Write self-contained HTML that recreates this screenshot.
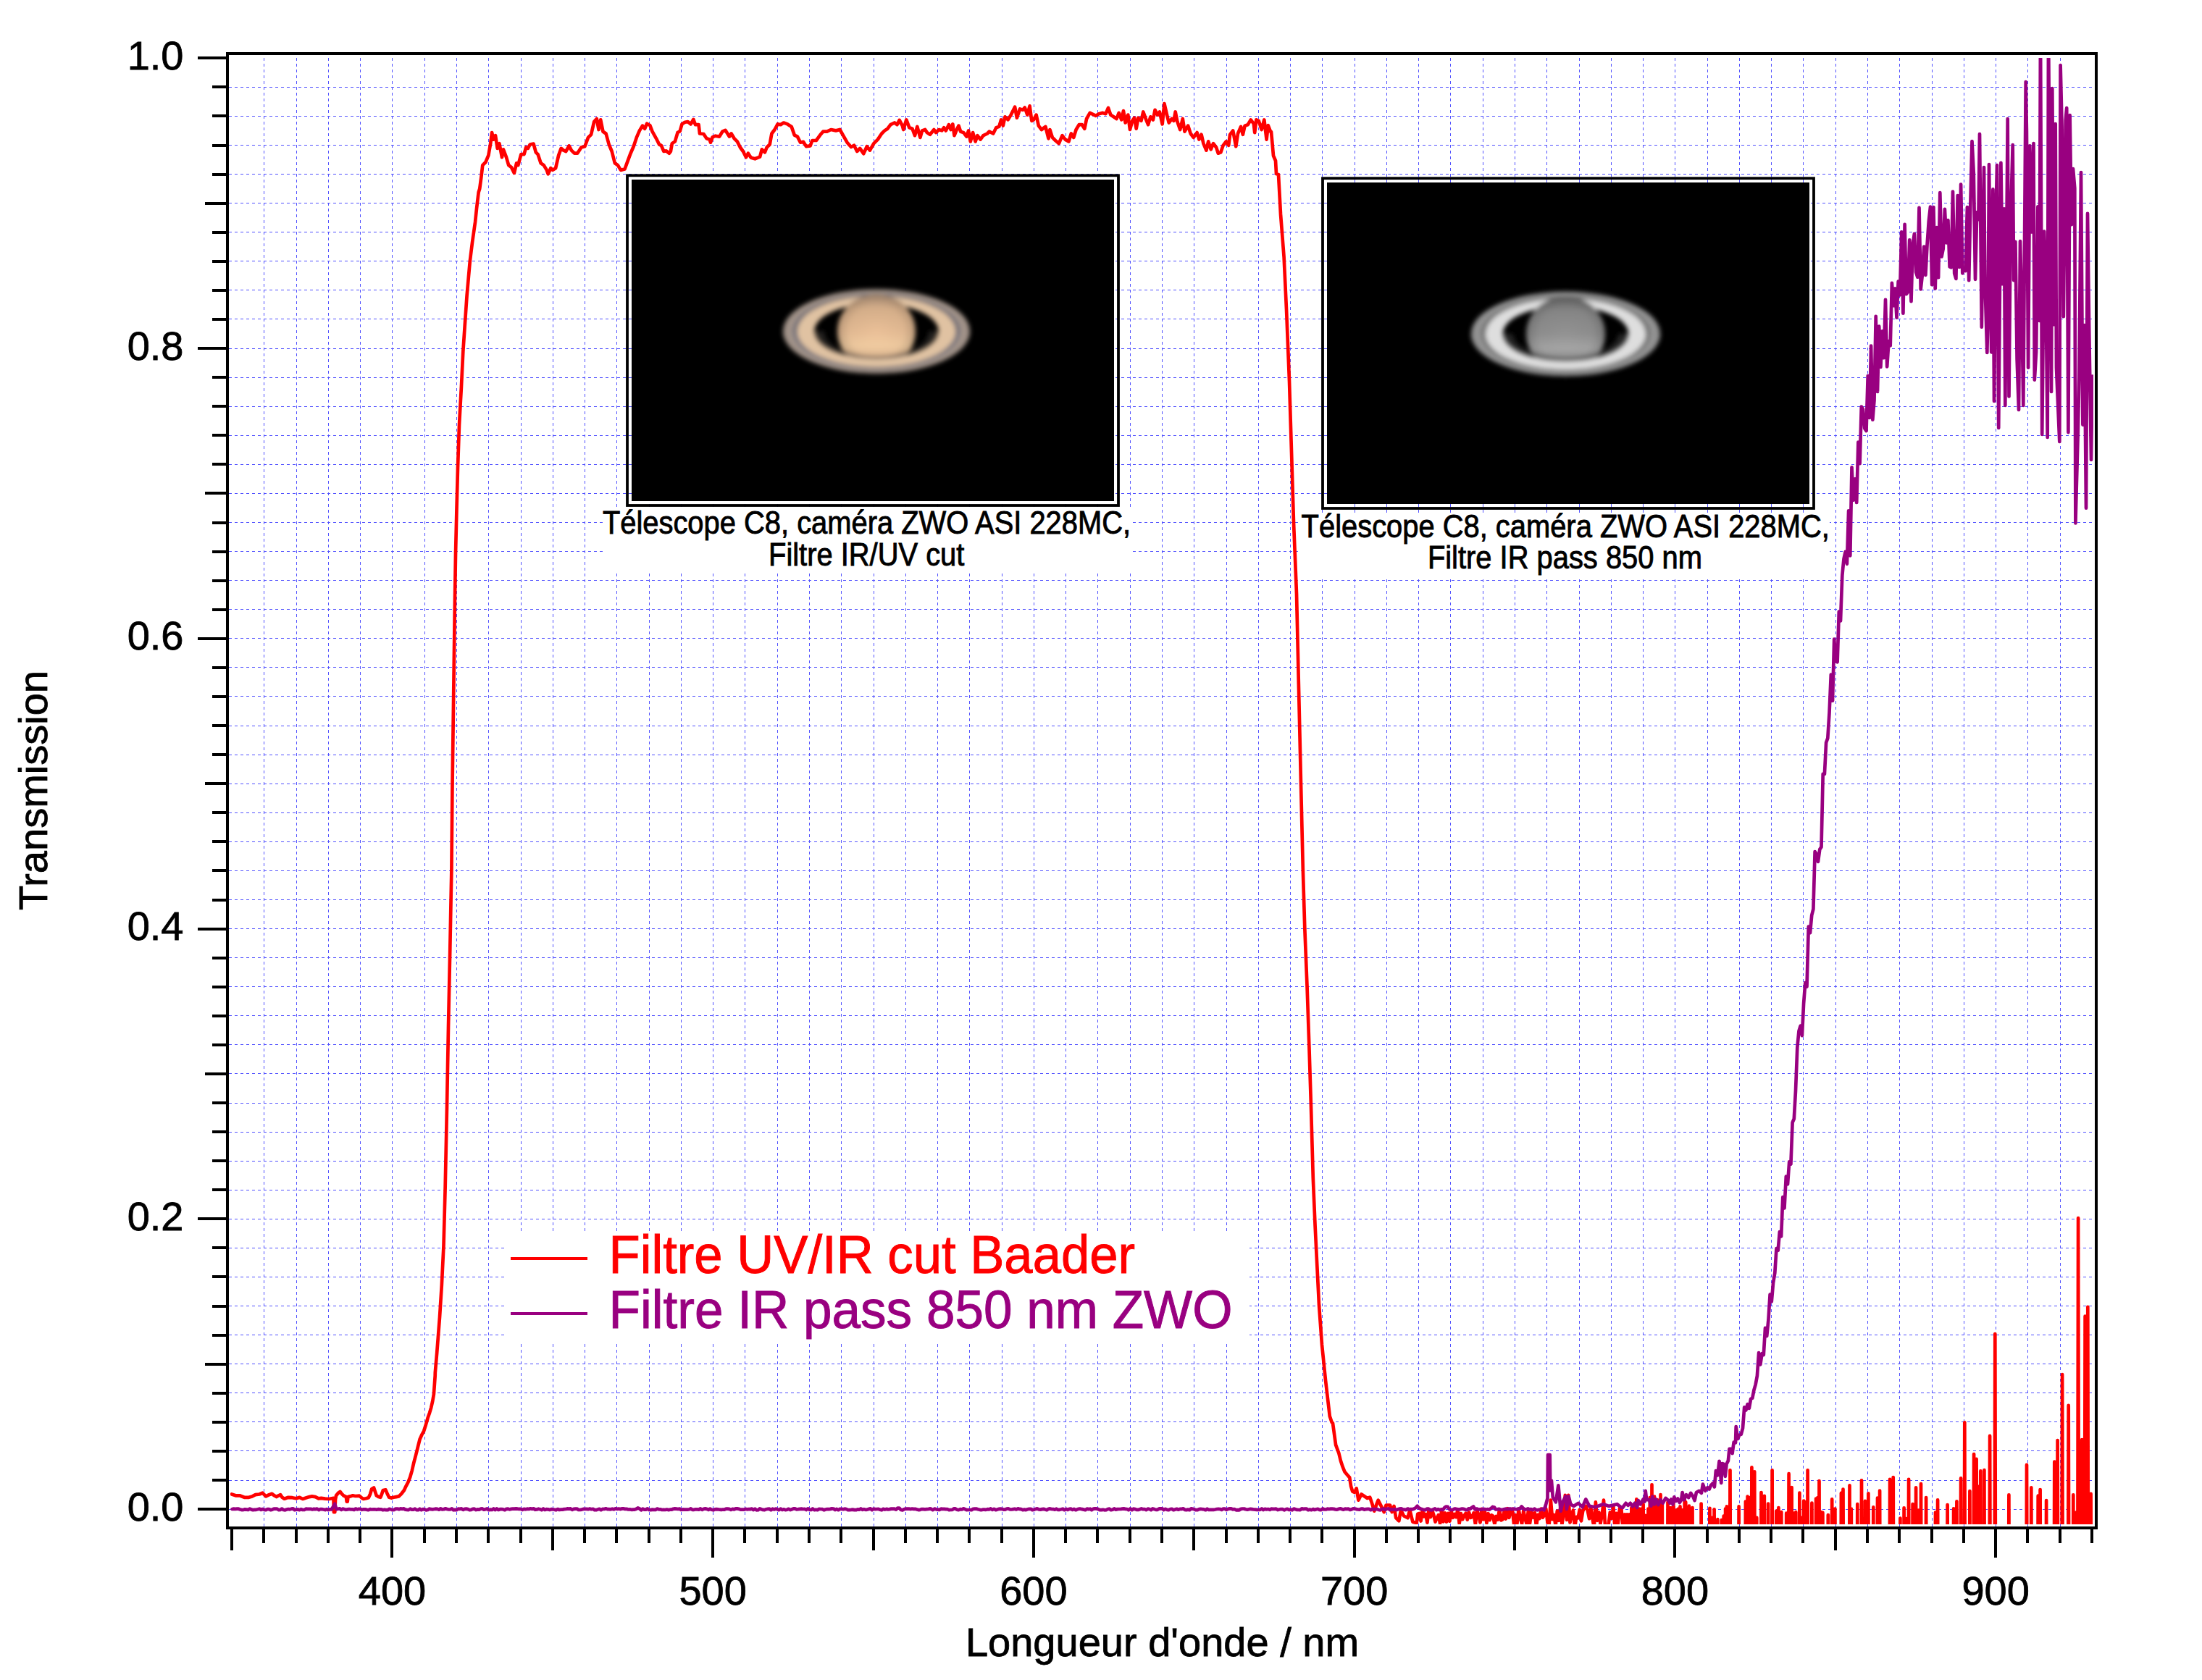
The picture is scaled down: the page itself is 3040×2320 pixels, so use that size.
<!DOCTYPE html>
<html><head><meta charset="utf-8"><title>Transmission</title>
<style>html,body{margin:0;padding:0;background:#fff}body{width:3040px;height:2320px;overflow:hidden}</style>
</head><body>
<svg width="3040" height="2320" viewBox="0 0 3040 2320" style="display:block">
<defs>
<clipPath id="plot"><rect x="318" y="80" width="2572" height="2025"/></clipPath>
</defs>
<rect width="3040" height="2320" fill="#fff"/>
<g stroke="#5252ff" stroke-width="1" stroke-dasharray="4 4" fill="none">
<line x1="364.5" y1="80" x2="364.5" y2="2108"/><line x1="409.5" y1="80" x2="409.5" y2="2108"/><line x1="453.5" y1="80" x2="453.5" y2="2108"/><line x1="497.5" y1="80" x2="497.5" y2="2108"/><line x1="541.5" y1="80" x2="541.5" y2="2108"/><line x1="586.5" y1="80" x2="586.5" y2="2108"/><line x1="630.5" y1="80" x2="630.5" y2="2108"/><line x1="674.5" y1="80" x2="674.5" y2="2108"/><line x1="719.5" y1="80" x2="719.5" y2="2108"/><line x1="763.5" y1="80" x2="763.5" y2="2108"/><line x1="807.5" y1="80" x2="807.5" y2="2108"/><line x1="851.5" y1="80" x2="851.5" y2="2108"/><line x1="896.5" y1="80" x2="896.5" y2="2108"/><line x1="940.5" y1="80" x2="940.5" y2="2108"/><line x1="984.5" y1="80" x2="984.5" y2="2108"/><line x1="1028.5" y1="80" x2="1028.5" y2="2108"/><line x1="1073.5" y1="80" x2="1073.5" y2="2108"/><line x1="1117.5" y1="80" x2="1117.5" y2="2108"/><line x1="1161.5" y1="80" x2="1161.5" y2="2108"/><line x1="1206.5" y1="80" x2="1206.5" y2="2108"/><line x1="1250.5" y1="80" x2="1250.5" y2="2108"/><line x1="1294.5" y1="80" x2="1294.5" y2="2108"/><line x1="1338.5" y1="80" x2="1338.5" y2="2108"/><line x1="1383.5" y1="80" x2="1383.5" y2="2108"/><line x1="1427.5" y1="80" x2="1427.5" y2="2108"/><line x1="1471.5" y1="80" x2="1471.5" y2="2108"/><line x1="1515.5" y1="80" x2="1515.5" y2="2108"/><line x1="1560.5" y1="80" x2="1560.5" y2="2108"/><line x1="1604.5" y1="80" x2="1604.5" y2="2108"/><line x1="1648.5" y1="80" x2="1648.5" y2="2108"/><line x1="1693.5" y1="80" x2="1693.5" y2="2108"/><line x1="1737.5" y1="80" x2="1737.5" y2="2108"/><line x1="1781.5" y1="80" x2="1781.5" y2="2108"/><line x1="1825.5" y1="80" x2="1825.5" y2="2108"/><line x1="1870.5" y1="80" x2="1870.5" y2="2108"/><line x1="1914.5" y1="80" x2="1914.5" y2="2108"/><line x1="1958.5" y1="80" x2="1958.5" y2="2108"/><line x1="2002.5" y1="80" x2="2002.5" y2="2108"/><line x1="2047.5" y1="80" x2="2047.5" y2="2108"/><line x1="2091.5" y1="80" x2="2091.5" y2="2108"/><line x1="2135.5" y1="80" x2="2135.5" y2="2108"/><line x1="2180.5" y1="80" x2="2180.5" y2="2108"/><line x1="2224.5" y1="80" x2="2224.5" y2="2108"/><line x1="2268.5" y1="80" x2="2268.5" y2="2108"/><line x1="2312.5" y1="80" x2="2312.5" y2="2108"/><line x1="2357.5" y1="80" x2="2357.5" y2="2108"/><line x1="2401.5" y1="80" x2="2401.5" y2="2108"/><line x1="2445.5" y1="80" x2="2445.5" y2="2108"/><line x1="2489.5" y1="80" x2="2489.5" y2="2108"/><line x1="2534.5" y1="80" x2="2534.5" y2="2108"/><line x1="2578.5" y1="80" x2="2578.5" y2="2108"/><line x1="2622.5" y1="80" x2="2622.5" y2="2108"/><line x1="2667.5" y1="80" x2="2667.5" y2="2108"/><line x1="2711.5" y1="80" x2="2711.5" y2="2108"/><line x1="2755.5" y1="80" x2="2755.5" y2="2108"/><line x1="2799.5" y1="80" x2="2799.5" y2="2108"/><line x1="2844.5" y1="80" x2="2844.5" y2="2108"/><line x1="316" y1="2084.5" x2="2888" y2="2084.5"/><line x1="316" y1="2044.5" x2="2888" y2="2044.5"/><line x1="316" y1="2003.5" x2="2888" y2="2003.5"/><line x1="316" y1="1963.5" x2="2888" y2="1963.5"/><line x1="316" y1="1923.5" x2="2888" y2="1923.5"/><line x1="316" y1="1883.5" x2="2888" y2="1883.5"/><line x1="316" y1="1843.5" x2="2888" y2="1843.5"/><line x1="316" y1="1803.5" x2="2888" y2="1803.5"/><line x1="316" y1="1763.5" x2="2888" y2="1763.5"/><line x1="316" y1="1723.5" x2="2888" y2="1723.5"/><line x1="316" y1="1683.5" x2="2888" y2="1683.5"/><line x1="316" y1="1643.5" x2="2888" y2="1643.5"/><line x1="316" y1="1603.5" x2="2888" y2="1603.5"/><line x1="316" y1="1563.5" x2="2888" y2="1563.5"/><line x1="316" y1="1523.5" x2="2888" y2="1523.5"/><line x1="316" y1="1482.5" x2="2888" y2="1482.5"/><line x1="316" y1="1442.5" x2="2888" y2="1442.5"/><line x1="316" y1="1402.5" x2="2888" y2="1402.5"/><line x1="316" y1="1362.5" x2="2888" y2="1362.5"/><line x1="316" y1="1322.5" x2="2888" y2="1322.5"/><line x1="316" y1="1282.5" x2="2888" y2="1282.5"/><line x1="316" y1="1242.5" x2="2888" y2="1242.5"/><line x1="316" y1="1202.5" x2="2888" y2="1202.5"/><line x1="316" y1="1162.5" x2="2888" y2="1162.5"/><line x1="316" y1="1122.5" x2="2888" y2="1122.5"/><line x1="316" y1="1082.5" x2="2888" y2="1082.5"/><line x1="316" y1="1042.5" x2="2888" y2="1042.5"/><line x1="316" y1="1002.5" x2="2888" y2="1002.5"/><line x1="316" y1="961.5" x2="2888" y2="961.5"/><line x1="316" y1="921.5" x2="2888" y2="921.5"/><line x1="316" y1="881.5" x2="2888" y2="881.5"/><line x1="316" y1="841.5" x2="2888" y2="841.5"/><line x1="316" y1="801.5" x2="2888" y2="801.5"/><line x1="316" y1="761.5" x2="2888" y2="761.5"/><line x1="316" y1="721.5" x2="2888" y2="721.5"/><line x1="316" y1="681.5" x2="2888" y2="681.5"/><line x1="316" y1="641.5" x2="2888" y2="641.5"/><line x1="316" y1="601.5" x2="2888" y2="601.5"/><line x1="316" y1="561.5" x2="2888" y2="561.5"/><line x1="316" y1="521.5" x2="2888" y2="521.5"/><line x1="316" y1="481.5" x2="2888" y2="481.5"/><line x1="316" y1="440.5" x2="2888" y2="440.5"/><line x1="316" y1="400.5" x2="2888" y2="400.5"/><line x1="316" y1="360.5" x2="2888" y2="360.5"/><line x1="316" y1="320.5" x2="2888" y2="320.5"/><line x1="316" y1="280.5" x2="2888" y2="280.5"/><line x1="316" y1="240.5" x2="2888" y2="240.5"/><line x1="316" y1="200.5" x2="2888" y2="200.5"/><line x1="316" y1="160.5" x2="2888" y2="160.5"/><line x1="316" y1="120.5" x2="2888" y2="120.5"/>
</g>
<g clip-path="url(#plot)" fill="none" stroke-width="4.7" stroke-linejoin="round" stroke-linecap="round">
<polyline stroke="#ff0000" points="319.9,2063.5 325.3,2065.3 330.8,2065.3 337.3,2067.8 343.5,2067.8 348.2,2066.4 352.6,2064.2 358.0,2063.5 362.4,2061.7 367.1,2066.4 371.5,2064.2 375.5,2062.8 378.7,2065.3 381.7,2067.1 384.6,2065.3 387.1,2064.2 389.6,2067.8 392.6,2069.7 398.0,2067.8 403.5,2068.2 408.9,2069.3 413.6,2067.8 418.0,2070.0 422.3,2068.6 427.1,2067.1 430.7,2066.4 435.4,2067.1 439.8,2069.3 443.4,2068.9 448.9,2069.7 454.3,2070.0 457.9,2069.3 460.5,2068.9 460.9,2088.2 462.3,2088.2 463.0,2070.8 464.1,2065.3 467.0,2061.7 469.6,2059.9 471.8,2062.8 474.3,2065.3 477.9,2067.1 478.7,2073.7 479.7,2073.7 480.5,2067.1 483.4,2066.4 487.0,2065.3 490.6,2066.0 496.1,2065.7 498.6,2067.8 501.5,2070.0 505.2,2069.3 508.8,2068.2 511.0,2063.5 513.2,2056.2 516.1,2054.4 517.9,2059.9 519.7,2065.3 522.6,2067.1 525.2,2067.8 527.0,2063.5 528.8,2058.0 532.4,2057.3 534.2,2061.7 537.1,2067.8 540.1,2068.6 543.3,2067.8 547.0,2067.1 550.6,2066.4 554.2,2062.8 557.9,2058.0 560.4,2052.6 563.3,2047.1 566.2,2039.9 568.8,2030.8 571.3,2019.9 574.2,2009.0 577.1,1997.4 579.7,1987.2 582.2,1981.7 585.1,1976.3 588.0,1967.2 590.6,1958.1 593.1,1950.9 595.3,1943.6 597.1,1935.6 598.9,1925.4 600.7,1900.0 600.8,1895.5 603.2,1868.0 607.0,1819.0 609.8,1775.0 612.5,1720.0 614.7,1638.0 617.0,1528.6 619.0,1419.0 621.3,1309.5 623.4,1200.0 624.4,1093.0 625.6,1003.6 626.8,914.0 628.0,825.0 629.0,765.5 630.4,706.0 632.0,646.0 634.0,587.0 637.0,533.0 639.3,485.7 641.7,450.0 644.6,408.0 648.8,360.7 652.0,335.0 656.0,307.0 658.0,288.0 660.7,265.5 662.2,260.8 664.4,244.4 666.3,228.1 670.4,224.0 674.4,214.4 677.2,198.1 679.1,183.1 681.3,192.6 684.0,187.2 686.7,204.9 689.4,198.1 693.0,217.2 694.9,206.3 699.0,217.2 702.2,228.1 705.8,230.8 709.9,239.0 713.1,225.3 715.3,228.1 719.4,213.1 723.5,213.1 726.2,203.5 728.9,204.9 731.7,199.5 736.6,198.6 739.8,210.4 742.6,213.1 746.6,225.3 750.7,228.1 754.8,234.9 756.7,240.3 760.3,232.2 763.0,234.9 767.1,232.2 771.2,214.4 774.7,204.9 778.0,207.6 781.3,209.0 785.6,201.4 788.9,207.6 793.0,211.7 797.1,211.7 802.5,203.5 807.4,202.2 812.0,189.9 816.1,185.8 820.2,168.1 823.8,164.0 826.5,179.0 829.2,165.4 832.5,181.7 836.6,184.5 840.7,199.5 844.7,209.0 848.8,225.3 852.9,228.1 857.0,234.9 862.5,233.5 866.5,222.6 870.6,211.7 874.7,202.2 878.8,189.9 882.9,180.4 887.0,173.6 890.2,177.7 893.0,170.8 897.3,173.0 900.6,181.7 906.0,191.3 910.1,199.5 912.9,200.8 916.4,209.0 919.7,208.4 923.8,211.7 925.9,209.0 927.8,198.1 931.9,195.4 935.5,183.1 938.7,181.2 941.5,171.4 945.6,168.7 949.6,168.1 953.7,171.4 957.3,164.9 960.0,172.2 964.6,172.2 966.0,184.5 971.4,185.0 975.5,191.3 979.6,192.6 981.0,196.7 983.7,189.4 987.8,187.7 993.2,188.6 997.3,181.7 1001.4,179.8 1006.9,188.6 1009.6,184.5 1013.7,191.3 1017.8,195.4 1021.9,203.5 1025.9,209.0 1030.0,217.2 1032.8,211.7 1036.8,217.7 1042.3,219.3 1049.1,216.6 1051.8,206.3 1055.9,210.4 1058.6,203.5 1062.7,199.5 1065.4,184.5 1069.5,179.0 1073.6,171.4 1077.7,172.2 1081.8,169.5 1087.2,171.4 1092.7,174.9 1096.8,186.6 1100.9,188.6 1105.0,196.7 1109.0,195.9 1113.1,202.2 1118.6,201.4 1121.3,194.0 1126.8,194.0 1132.2,186.6 1136.3,181.7 1141.7,181.7 1147.2,179.0 1154.0,180.4 1159.5,179.0 1164.1,187.2 1169.5,196.7 1175.0,203.0 1179.1,200.8 1183.2,209.0 1187.2,204.9 1192.2,212.3 1196.8,202.2 1200.9,207.6 1206.3,198.1 1211.8,192.6 1217.2,184.5 1221.3,180.4 1225.4,177.7 1229.5,172.2 1234.9,169.5 1238.5,172.2 1241.7,165.9 1245.8,173.6 1247.2,179.0 1251.3,165.4 1255.4,176.3 1259.5,177.7 1263.0,187.2 1266.3,174.9 1270.4,189.9 1273.1,180.4 1277.2,179.0 1279.9,183.1 1284.0,185.8 1289.4,179.0 1292.2,183.1 1296.2,179.0 1300.3,180.4 1303.1,176.3 1305.8,180.4 1309.9,172.2 1312.6,179.0 1315.3,171.4 1317.5,187.2 1320.8,179.0 1323.5,173.6 1326.2,181.7 1330.3,183.1 1334.4,188.6 1337.1,180.4 1339.8,195.4 1343.1,183.1 1346.6,195.4 1349.4,187.2 1353.5,192.6 1357.5,187.2 1363.0,184.5 1365.7,181.7 1371.2,184.5 1375.3,176.3 1379.3,174.9 1382.1,165.4 1384.8,173.6 1387.5,161.3 1391.6,165.4 1395.7,158.6 1401.1,147.7 1403.9,162.7 1408.0,150.4 1412.0,151.8 1414.8,148.5 1418.3,158.6 1421.6,146.3 1424.3,166.8 1427.0,165.4 1430.6,158.6 1433.8,173.6 1437.9,179.0 1443.4,174.9 1447.5,191.3 1449.4,179.0 1452.9,189.9 1457.0,194.0 1461.9,198.1 1466.5,187.2 1470.6,192.6 1475.5,195.4 1478.8,184.5 1482.3,189.9 1485.6,179.0 1489.7,172.2 1493.8,172.2 1497.3,177.7 1500.1,164.0 1504.7,155.9 1508.8,157.8 1512.9,159.9 1516.9,157.2 1522.4,155.9 1526.5,157.2 1530.0,149.0 1533.3,158.6 1537.4,161.3 1541.5,164.0 1544.7,155.9 1548.3,165.4 1551.0,153.1 1553.7,169.5 1557.3,158.6 1560.0,179.0 1563.3,166.8 1566.0,162.7 1568.7,177.7 1571.4,162.7 1575.5,166.8 1578.3,154.5 1582.3,165.4 1585.1,172.2 1588.3,161.3 1591.9,165.4 1594.6,151.8 1598.1,158.6 1600.9,154.5 1604.7,171.4 1607.4,143.1 1611.0,158.6 1613.7,169.5 1617.8,164.0 1620.5,166.8 1622.7,154.5 1625.4,168.1 1629.2,179.0 1632.8,164.0 1635.5,181.7 1640.1,173.6 1643.7,184.5 1647.7,189.9 1652.6,183.1 1655.4,192.6 1658.6,185.8 1661.4,198.1 1665.4,207.6 1668.2,195.4 1671.7,206.3 1675.0,198.1 1679.1,203.5 1681.8,211.7 1685.3,210.4 1688.6,200.8 1692.7,195.4 1696.2,200.8 1698.1,185.8 1702.2,180.4 1706.3,202.2 1709.0,184.5 1713.1,174.9 1715.9,185.8 1718.6,173.6 1722.7,172.2 1726.8,165.4 1730.8,170.8 1732.2,183.1 1734.4,165.4 1737.7,166.8 1741.7,179.0 1745.3,165.4 1748.6,192.6 1750.7,173.0 1754.0,181.7 1755.0,182.0 1756.5,198.0 1758.0,215.0 1761.0,222.0 1762.0,240.0 1765.0,241.0 1768.0,296.0 1772.6,355.0 1776.0,427.0 1780.0,526.0 1783.0,624.0 1786.0,722.0 1790.0,820.0 1793.0,951.0 1796.0,1082.0 1798.8,1200.0 1801.3,1282.0 1804.6,1364.0 1807.4,1446.0 1810.0,1528.6 1812.8,1627.0 1815.6,1693.0 1818.3,1747.6 1821.0,1802.0 1825.0,1857.0 1830.0,1906.0 1835.8,1955.7 1838.6,1964.0 1840.0,1965.4 1844.1,1995.4 1848.2,2006.3 1850.9,2017.2 1853.6,2025.4 1856.3,2032.2 1859.6,2036.3 1863.2,2040.4 1865.1,2052.6 1867.2,2059.5 1870.0,2060.8 1872.7,2055.4 1875.4,2071.7 1879.5,2063.5 1883.6,2066.3 1887.7,2069.0 1891.2,2067.6 1894.5,2077.2 1897.2,2086.7 1900.5,2077.2 1902.7,2071.7 1906.8,2079.9 1910.8,2088.1 1913.6,2078.5 1919.0,2078.5 1921.7,2088.1 1924.5,2079.9 1927.2,2096.2 1931.3,2100.3 1934.0,2085.3 1938.1,2093.5 1943.5,2096.2 1946.3,2085.3 1950.4,2101.7 1955.8,2103.1 1957.2,2090.8 1959.4,2090.0 1961.6,2100.5 1963.8,2084.9 1966.0,2094.3 1968.2,2090.9 1970.4,2102.6 1972.7,2084.2 1974.9,2095.0 1977.1,2085.2 1979.3,2092.1 1981.5,2101.5 1983.7,2096.4 1985.9,2092.2 1988.1,2103.8 1990.4,2084.3 1992.6,2101.4 1994.8,2089.4 1997.0,2101.5 1999.2,2089.8 2001.4,2100.7 2003.6,2087.1 2005.9,2095.8 2008.1,2091.0 2010.3,2095.1 2012.5,2084.5 2014.7,2103.7 2016.9,2090.1 2019.1,2098.2 2021.4,2093.1 2023.6,2089.7 2025.8,2098.6 2028.0,2088.5 2030.2,2095.9 2032.4,2094.8 2034.6,2089.1 2036.9,2105.2 2039.1,2085.6 2041.3,2092.5 2043.5,2102.4 2045.7,2083.8 2047.9,2098.3 2050.1,2088.3 2052.4,2103.2 2054.6,2090.2 2056.8,2099.1 2059.0,2092.3 2061.2,2093.5 2063.4,2105.1 2065.6,2094.0 2067.9,2098.6 2070.1,2084.2 2072.3,2099.5 2074.5,2098.3 2076.7,2087.0 2078.9,2097.5 2081.1,2083.2 2083.4,2095.8 2085.6,2085.5 2087.8,2084.0 2090.0,2104.0 2092.2,2092.2 2094.4,2104.1 2096.6,2084.5 2098.8,2096.2 2101.1,2104.6 2103.3,2085.9 2105.5,2097.2 2107.7,2104.8 2109.9,2086.3 2112.1,2103.4 2114.3,2088.3 2116.6,2095.6 2118.8,2089.1 2121.0,2108.0 2123.2,2091.9 2125.4,2097.0 2127.6,2083.5 2129.8,2095.7 2132.1,2092.3 2134.3,2083.7 2136.5,2102.7 2138.7,2105.3 2140.9,2071.7 2143.1,2098.1 2145.3,2091.9 2147.6,2107.0 2149.8,2086.5 2152.0,2099.8 2154.2,2082.1 2156.4,2105.0 2158.6,2091.9 2160.8,2064.9 2163.1,2098.8 2165.3,2064.9 2167.5,2102.5 2169.7,2092.0 2171.9,2085.4 2174.1,2109.4 2176.3,2094.9 2178.6,2096.3 2180.8,2084.8 2183.0,2100.3 2185.2,2086.7 2187.4,2082.5 2189.6,2079.9 2191.8,2086.0 2194.1,2097.2 2196.3,2082.6 2198.5,2096.8 2200.7,2109.7 2202.9,2074.4 2205.1,2099.9 2207.3,2088.3 2209.5,2104.2 2211.8,2091.3 2214.0,2071.7 2216.2,2110.4 2218.4,2106.6 2220.6,2105.6 2222.8,2088.3 2225.0,2096.8 2227.3,2079.9 2229.5,2110.3 2231.7,2089.9 2233.9,2103.6 2236.1,2082.8 2238.3,2082.6 2240.5,2111.1 2241.0,2600.0 2242.0,2600.0 2243.1,2091.3 2244.6,2600.0 2246.2,2091.3 2247.7,2600.0 2249.3,2091.3 2250.8,2600.0 2252.4,2082.0 2253.9,2600.0 2255.4,2082.0 2256.8,2600.0 2257.9,2600.0 2259.3,2070.4 2260.7,2600.0 2261.8,2600.0 2263.2,2083.5 2264.7,2600.0 2266.3,2083.5 2267.4,2600.0 2268.6,2077.4 2270.1,2600.0 2271.7,2092.8 2273.1,2600.0 2274.1,2600.0 2275.5,2083.5 2276.7,2600.0 2277.8,2068.1 2279.1,2600.0 2280.5,2050.3 2281.9,2600.0 2282.6,2600.0 2284.0,2066.5 2285.4,2600.0 2286.5,2600.0 2287.9,2071.2 2289.0,2600.0 2290.2,2077.4 2291.3,2600.0 2292.5,2064.2 2293.7,2600.0 2294.8,2077.4 2296.2,2600.0 2301.1,2600.0 2302.5,2074.3 2303.9,2600.0 2305.0,2600.0 2306.4,2082.0 2307.8,2600.0 2308.9,2600.0 2310.3,2074.3 2311.7,2600.0 2313.5,2600.0 2314.9,2085.1 2316.1,2600.0 2317.2,2083.5 2318.4,2600.0 2319.5,2080.4 2320.9,2600.0 2322.0,2600.0 2323.4,2085.1 2324.5,2600.0 2325.7,2071.2 2326.5,2600.0 2327.2,2074.3 2328.6,2600.0 2330.5,2600.0 2331.9,2079.7 2333.3,2600.0 2335.1,2600.0 2336.5,2082.0 2337.9,2600.0 2347.2,2600.0 2348.6,2076.6 2350.0,2600.0 2359.0,2600.0 2360.4,2082.8 2362.0,2600.0 2363.5,2095.9 2365.1,2600.0 2366.6,2084.3 2368.0,2600.0 2369.9,2600.0 2371.3,2098.2 2372.7,2600.0 2375.3,2600.0 2376.7,2099.0 2378.2,2600.0 2379.7,2093.6 2380.9,2600.0 2382.1,2083.5 2383.0,2600.0 2383.9,2080.4 2385.3,2600.0 2387.1,2600.0 2388.5,2030.3 2389.9,2600.0 2399.2,2600.0 2400.6,2080.4 2402.0,2600.0 2408.5,2600.0 2409.9,2073.5 2411.2,2600.0 2412.6,2066.5 2413.9,2600.0 2415.3,2068.1 2416.8,2600.0 2418.4,2026.4 2419.8,2600.0 2420.8,2600.0 2422.2,2032.3 2423.8,2600.0 2425.3,2095.9 2426.7,2600.0 2430.1,2600.0 2431.5,2061.1 2432.6,2600.0 2433.8,2066.5 2434.8,2600.0 2435.8,2065.8 2437.2,2600.0 2439.7,2600.0 2441.1,2076.6 2442.5,2600.0 2445.2,2600.0 2446.6,2030.3 2448.0,2600.0 2450.9,2600.0 2452.3,2086.6 2453.9,2600.0 2455.4,2082.0 2456.8,2600.0 2457.9,2600.0 2459.3,2088.2 2460.7,2600.0 2464.8,2600.0 2466.2,2089.7 2467.9,2600.0 2469.6,2035.2 2471.0,2600.0 2472.2,2600.0 2473.6,2054.2 2474.9,2600.0 2476.3,2089.7 2477.8,2600.0 2479.3,2088.2 2480.7,2600.0 2483.0,2600.0 2484.4,2061.6 2486.1,2600.0 2487.8,2095.9 2489.0,2600.0 2490.2,2072.7 2491.3,2600.0 2492.5,2074.3 2494.0,2600.0 2495.6,2030.3 2497.0,2600.0 2500.0,2600.0 2501.4,2075.5 2502.8,2600.0 2505.7,2600.0 2507.1,2069.6 2508.3,2600.0 2509.5,2068.1 2510.5,2600.0 2511.5,2045.2 2512.8,2600.0 2514.1,2088.2 2515.2,2600.0 2516.4,2088.9 2517.8,2600.0 2522.4,2600.0 2523.8,2092.0 2525.2,2600.0 2527.8,2600.0 2529.2,2070.4 2530.6,2600.0 2532.0,2600.0 2533.4,2083.5 2534.8,2600.0 2540.5,2600.0 2541.9,2061.9 2543.2,2600.0 2544.5,2056.5 2545.9,2600.0 2552.1,2600.0 2553.5,2051.4 2554.6,2600.0 2555.8,2083.5 2557.2,2600.0 2562.9,2600.0 2564.3,2077.1 2565.7,2600.0 2568.6,2600.0 2570.0,2044.3 2571.4,2600.0 2573.5,2600.0 2574.9,2072.9 2576.3,2600.0 2578.0,2600.0 2579.4,2062.3 2580.8,2600.0 2584.9,2600.0 2586.3,2081.4 2587.7,2600.0 2590.6,2600.0 2592.0,2068.6 2593.6,2600.0 2595.1,2058.6 2596.5,2600.0 2607.7,2600.0 2609.1,2042.9 2610.5,2600.0 2612.3,2600.0 2613.7,2040.0 2615.1,2600.0 2622.0,2600.0 2623.4,2096.6 2624.8,2600.0 2627.2,2600.0 2628.6,2082.3 2630.0,2600.0 2630.6,2600.0 2632.0,2097.1 2633.6,2600.0 2635.1,2042.9 2636.5,2600.0 2639.2,2600.0 2640.6,2077.1 2642.0,2600.0 2643.7,2600.0 2645.1,2054.3 2646.5,2600.0 2647.2,2600.0 2648.6,2085.7 2650.0,2600.0 2650.6,2600.0 2652.0,2049.1 2653.4,2600.0 2657.7,2600.0 2659.1,2068.0 2660.5,2600.0 2670.6,2600.0 2672.0,2088.6 2673.6,2600.0 2675.1,2071.4 2676.5,2600.0 2687.2,2600.0 2688.6,2078.0 2690.0,2600.0 2695.7,2600.0 2697.1,2083.4 2698.5,2600.0 2700.0,2600.0 2701.4,2073.4 2702.8,2600.0 2705.7,2600.0 2707.1,2041.4 2708.5,2600.0 2710.9,2600.0 2712.3,1964.3 2713.7,2600.0 2718.0,2600.0 2719.4,2059.1 2720.8,2600.0 2723.7,2600.0 2725.1,2008.0 2726.5,2600.0 2727.2,2600.0 2728.6,2014.9 2730.0,2600.0 2731.4,2052.9 2732.9,2600.0 2734.3,2031.4 2735.7,2600.0 2738.0,2600.0 2739.4,2030.0 2740.8,2600.0 2745.7,2600.0 2747.1,1982.9 2748.5,2600.0 2752.9,2600.0 2754.3,1842.0 2755.7,2600.0 2772.0,2600.0 2773.4,2064.3 2774.8,2600.0 2796.6,2600.0 2798.0,2022.9 2799.4,2600.0 2802.9,2600.0 2804.3,2054.3 2805.7,2600.0 2812.3,2600.0 2813.7,2065.7 2815.1,2600.0 2816.6,2057.1 2818.0,2600.0 2823.7,2600.0 2825.1,2072.0 2826.5,2600.0 2834.9,2600.0 2836.3,2018.6 2837.7,2600.0 2839.2,2600.0 2840.6,1989.1 2842.0,2600.0 2845.7,2600.0 2847.1,1898.0 2848.5,2600.0 2854.3,2600.0 2855.7,1940.9 2857.1,2600.0 2860.9,2600.0 2862.3,2064.3 2863.7,2600.0 2864.9,2600.0 2866.3,2088.6 2867.7,2600.0 2869.1,1682.0 2870.5,2600.0 2872.9,2600.0 2874.3,1988.0 2875.7,2600.0 2877.2,2600.0 2878.6,1817.7 2880.0,2600.0 2880.9,2600.0 2882.3,1804.9 2883.7,2600.0 2885.2,2600.0 2886.6,2062.9 2888.0,2600.0"/>
<polyline stroke="#990080" points="320.5,2084.0 322.7,2083.7 324.9,2083.8 327.1,2083.7 329.4,2083.7 331.6,2084.5 333.8,2085.1 336.0,2085.0 338.2,2084.3 340.4,2084.6 342.6,2084.9 344.9,2083.5 347.1,2084.6 349.3,2085.1 351.5,2084.9 353.7,2084.8 355.9,2084.3 358.1,2083.7 360.4,2084.9 362.6,2084.0 364.8,2084.9 367.0,2085.2 369.2,2084.1 371.4,2084.1 373.6,2085.2 375.8,2084.7 378.1,2083.6 380.3,2083.6 382.5,2083.6 384.7,2085.1 386.9,2084.9 389.1,2083.6 391.3,2085.0 393.6,2085.3 395.8,2084.6 398.0,2084.0 400.2,2084.4 402.4,2083.6 404.6,2083.3 406.8,2085.2 409.1,2084.6 411.3,2084.4 413.5,2085.2 415.7,2084.2 417.9,2085.0 420.1,2085.0 422.3,2083.7 424.6,2083.8 426.8,2083.9 429.0,2083.8 431.2,2084.5 433.4,2083.8 435.6,2084.1 437.8,2083.6 440.1,2085.1 442.3,2084.0 444.5,2084.2 446.7,2084.5 448.9,2085.1 451.1,2084.1 453.3,2085.1 455.6,2084.3 457.8,2084.4 460.0,2080.8 462.2,2076.8 464.4,2084.2 466.6,2083.7 468.8,2083.3 471.1,2084.9 473.3,2083.6 475.5,2084.2 477.7,2084.8 479.9,2084.4 482.1,2084.0 484.3,2084.3 486.5,2084.4 488.8,2084.9 491.0,2083.5 493.2,2084.4 495.4,2083.8 497.6,2083.9 499.8,2084.8 502.0,2084.3 504.3,2084.4 506.5,2084.8 508.7,2085.1 510.9,2084.2 513.1,2084.5 515.3,2084.3 517.5,2084.3 519.8,2084.7 522.0,2084.2 524.2,2084.4 526.4,2084.3 528.6,2085.2 530.8,2084.7 533.0,2085.1 535.3,2085.2 537.5,2083.8 539.7,2084.4 541.9,2085.2 544.1,2085.0 546.3,2083.6 548.5,2083.5 550.8,2084.2 553.0,2083.4 555.2,2083.8 557.4,2083.4 559.6,2084.6 561.8,2084.9 564.0,2085.1 566.3,2083.6 568.5,2084.7 570.7,2084.6 572.9,2083.6 575.1,2085.1 577.3,2085.2 579.5,2083.7 581.8,2085.2 584.0,2084.1 586.2,2084.3 588.4,2085.3 590.6,2085.0 592.8,2083.6 595.0,2084.2 597.3,2084.3 599.5,2084.0 601.7,2083.7 603.9,2083.9 606.1,2084.7 608.3,2083.3 610.5,2084.4 612.7,2084.2 615.0,2083.3 617.2,2084.0 619.4,2084.5 621.6,2084.3 623.8,2083.4 626.0,2085.3 628.2,2084.9 630.5,2085.2 632.7,2083.5 634.9,2083.8 637.1,2083.4 639.3,2084.9 641.5,2083.8 643.7,2083.6 646.0,2084.1 648.2,2085.1 650.4,2084.9 652.6,2083.8 654.8,2083.6 657.0,2085.1 659.2,2084.4 661.5,2084.7 663.7,2083.5 665.9,2083.4 668.1,2084.7 670.3,2084.2 672.5,2083.4 674.7,2085.2 677.0,2084.6 679.2,2084.9 681.4,2083.5 683.6,2085.0 685.8,2083.4 688.0,2085.0 690.2,2084.2 692.5,2084.0 694.7,2084.4 696.9,2085.2 699.1,2083.8 701.3,2083.6 703.5,2084.4 705.7,2083.8 708.0,2083.5 710.2,2083.6 712.4,2083.4 714.6,2083.7 716.8,2083.9 719.0,2083.9 721.2,2084.8 723.4,2083.9 725.7,2084.3 727.9,2083.7 730.1,2084.0 732.3,2083.3 734.5,2083.8 736.7,2083.3 738.9,2084.8 741.2,2084.4 743.4,2083.7 745.6,2084.2 747.8,2085.2 750.0,2083.5 752.2,2084.9 754.4,2084.2 756.7,2084.3 758.9,2085.0 761.1,2084.1 763.3,2084.3 765.5,2084.7 767.7,2085.3 769.9,2084.0 772.2,2085.0 774.4,2084.7 776.6,2084.6 778.8,2084.1 781.0,2084.0 783.2,2083.4 785.4,2083.6 787.7,2083.4 789.9,2084.8 792.1,2083.8 794.3,2083.6 796.5,2083.5 798.7,2085.0 800.9,2085.0 803.2,2084.6 805.4,2083.9 807.6,2083.8 809.8,2083.9 812.0,2084.2 814.2,2083.6 816.4,2084.2 818.7,2083.8 820.9,2085.2 823.1,2085.2 825.3,2084.4 827.5,2083.8 829.7,2085.2 831.9,2083.9 834.1,2084.0 836.4,2083.3 838.6,2084.1 840.8,2084.2 843.0,2084.3 845.2,2083.7 847.4,2084.3 849.6,2083.3 851.9,2083.8 854.1,2083.5 856.3,2084.1 858.5,2083.4 860.7,2083.3 862.9,2083.9 865.1,2083.8 867.4,2084.5 869.6,2084.4 871.8,2084.8 874.0,2084.6 876.2,2084.6 878.4,2083.8 880.6,2082.4 882.9,2083.4 885.1,2085.3 887.3,2083.6 889.5,2084.7 891.7,2084.6 893.9,2083.4 896.1,2085.0 898.4,2085.1 900.6,2084.6 902.8,2084.8 905.0,2084.9 907.2,2083.6 909.4,2084.3 911.6,2084.3 913.9,2085.0 916.1,2084.9 918.3,2085.0 920.5,2084.5 922.7,2085.1 924.9,2084.7 927.1,2084.7 929.4,2083.8 931.6,2083.4 933.8,2083.6 936.0,2084.0 938.2,2083.5 940.4,2085.0 942.6,2084.4 944.8,2084.6 947.1,2084.6 949.3,2084.7 951.5,2084.3 953.7,2083.3 955.9,2084.9 958.1,2084.8 960.3,2084.3 962.6,2084.4 964.8,2084.6 967.0,2083.4 969.2,2084.8 971.4,2083.8 973.6,2083.4 975.8,2083.8 978.1,2084.8 980.3,2083.7 982.5,2084.8 984.7,2085.3 986.9,2084.3 989.1,2084.1 991.3,2084.3 993.6,2084.7 995.8,2084.8 998.0,2084.5 1000.2,2084.6 1002.4,2083.5 1004.6,2083.6 1006.8,2083.8 1009.1,2084.8 1011.3,2083.9 1013.5,2084.4 1015.7,2083.3 1017.9,2083.4 1020.1,2083.8 1022.3,2084.6 1024.6,2084.7 1026.8,2084.7 1029.0,2083.9 1031.2,2084.3 1033.4,2084.2 1035.6,2084.2 1037.8,2083.5 1040.1,2085.1 1042.3,2083.7 1044.5,2085.3 1046.7,2085.2 1048.9,2083.3 1051.1,2084.2 1053.3,2084.9 1055.5,2085.2 1057.8,2084.2 1060.0,2083.8 1062.2,2083.7 1064.4,2085.2 1066.6,2083.7 1068.8,2084.5 1071.0,2083.6 1073.3,2084.3 1075.5,2085.2 1077.7,2083.6 1079.9,2084.9 1082.1,2084.3 1084.3,2085.1 1086.5,2084.7 1088.8,2083.8 1091.0,2085.1 1093.2,2084.3 1095.4,2083.3 1097.6,2083.3 1099.8,2084.3 1102.0,2084.2 1104.3,2083.9 1106.5,2083.6 1108.7,2084.0 1110.9,2083.9 1113.1,2085.0 1115.3,2083.3 1117.5,2084.8 1119.8,2085.0 1122.0,2083.5 1124.2,2085.2 1126.4,2084.7 1128.6,2085.1 1130.8,2083.9 1133.0,2084.0 1135.3,2084.1 1137.5,2085.3 1139.7,2084.5 1141.9,2084.0 1144.1,2084.2 1146.3,2083.9 1148.5,2083.4 1150.8,2083.5 1153.0,2085.0 1155.2,2083.9 1157.4,2085.2 1159.6,2083.8 1161.8,2083.8 1164.0,2084.3 1166.2,2083.7 1168.5,2084.0 1170.7,2085.2 1172.9,2085.1 1175.1,2084.9 1177.3,2084.6 1179.5,2085.1 1181.7,2085.2 1184.0,2084.4 1186.2,2084.7 1188.4,2083.4 1190.6,2084.8 1192.8,2084.2 1195.0,2084.8 1197.2,2084.6 1199.5,2083.9 1201.7,2083.4 1203.9,2085.2 1206.1,2083.6 1208.3,2084.2 1210.5,2084.0 1212.7,2083.9 1215.0,2084.8 1217.2,2085.3 1219.4,2083.8 1221.6,2084.6 1223.8,2083.9 1226.0,2084.4 1228.2,2084.1 1230.5,2083.6 1232.7,2083.6 1234.9,2083.7 1237.1,2084.6 1239.3,2082.6 1241.5,2082.5 1243.7,2085.0 1246.0,2085.3 1248.2,2084.2 1250.4,2083.6 1252.6,2083.7 1254.8,2083.5 1257.0,2084.0 1259.2,2083.5 1261.5,2083.8 1263.7,2083.8 1265.9,2084.4 1268.1,2085.1 1270.3,2084.8 1272.5,2084.1 1274.7,2084.1 1276.9,2084.3 1279.2,2084.1 1281.4,2084.0 1283.6,2083.4 1285.8,2083.9 1288.0,2085.2 1290.2,2083.6 1292.4,2084.3 1294.7,2084.6 1296.9,2085.0 1299.1,2083.7 1301.3,2083.8 1303.5,2083.8 1305.7,2084.1 1307.9,2084.2 1310.2,2085.2 1312.4,2085.0 1314.6,2085.0 1316.8,2083.3 1319.0,2083.4 1321.2,2084.7 1323.4,2085.1 1325.7,2084.2 1327.9,2084.5 1330.1,2083.3 1332.3,2084.1 1334.5,2085.2 1336.7,2085.0 1338.9,2085.0 1341.2,2085.2 1343.4,2083.8 1345.6,2083.5 1347.8,2083.6 1350.0,2084.3 1352.2,2084.7 1354.4,2085.2 1356.7,2084.7 1358.9,2084.6 1361.1,2084.8 1363.3,2084.2 1365.5,2084.4 1367.7,2083.4 1369.9,2084.9 1372.2,2083.8 1374.4,2085.1 1376.6,2084.6 1378.8,2083.9 1381.0,2083.6 1383.2,2083.8 1385.4,2084.6 1387.6,2084.7 1389.9,2083.5 1392.1,2083.4 1394.3,2084.3 1396.5,2084.5 1398.7,2084.1 1400.9,2083.7 1403.1,2084.5 1405.4,2083.3 1407.6,2083.9 1409.8,2084.2 1412.0,2085.2 1414.2,2084.6 1416.4,2085.1 1418.6,2084.3 1420.9,2083.8 1423.1,2083.8 1425.3,2085.2 1427.5,2084.7 1429.7,2083.9 1431.9,2083.3 1434.1,2084.3 1436.4,2084.6 1438.6,2084.1 1440.8,2083.8 1443.0,2084.6 1445.2,2085.2 1447.4,2083.8 1449.6,2083.4 1451.9,2084.0 1454.1,2084.1 1456.3,2084.7 1458.5,2083.7 1460.7,2084.9 1462.9,2084.8 1465.1,2084.3 1467.4,2083.7 1469.6,2085.2 1471.8,2083.9 1474.0,2084.9 1476.2,2083.8 1478.4,2083.7 1480.6,2084.8 1482.9,2083.9 1485.1,2085.2 1487.3,2084.3 1489.5,2083.7 1491.7,2083.7 1493.9,2084.1 1496.1,2084.6 1498.3,2085.2 1500.6,2083.6 1502.8,2084.1 1505.0,2083.7 1507.2,2085.2 1509.4,2083.6 1511.6,2083.4 1513.8,2083.4 1516.1,2084.1 1518.3,2085.1 1520.5,2085.1 1522.7,2084.8 1524.9,2085.3 1527.1,2085.2 1529.3,2084.0 1531.6,2083.7 1533.8,2085.2 1536.0,2084.8 1538.2,2083.4 1540.4,2084.6 1542.6,2084.1 1544.8,2084.0 1547.1,2084.0 1549.3,2083.6 1551.5,2083.3 1553.7,2083.9 1555.9,2084.0 1558.1,2085.2 1560.3,2083.5 1562.6,2085.2 1564.8,2083.7 1567.0,2084.0 1569.2,2084.9 1571.4,2084.9 1573.6,2084.2 1575.8,2083.4 1578.1,2084.2 1580.3,2084.0 1582.5,2085.1 1584.7,2083.7 1586.9,2084.0 1589.1,2085.1 1591.3,2083.4 1593.5,2084.1 1595.8,2084.9 1598.0,2084.8 1600.2,2083.4 1602.4,2083.4 1604.6,2083.4 1606.8,2085.1 1609.0,2083.8 1611.3,2084.8 1613.5,2085.1 1615.7,2084.0 1617.9,2083.8 1620.1,2085.2 1622.3,2084.5 1624.5,2083.8 1626.8,2084.7 1629.0,2083.9 1631.2,2083.9 1633.4,2083.3 1635.6,2084.8 1637.8,2085.1 1640.0,2084.6 1642.3,2085.2 1644.5,2083.3 1646.7,2083.8 1648.9,2084.3 1651.1,2085.2 1653.3,2085.2 1655.5,2084.1 1657.8,2083.8 1660.0,2084.2 1662.2,2084.3 1664.4,2085.2 1666.6,2083.7 1668.8,2084.9 1671.0,2084.8 1673.3,2084.9 1675.5,2084.8 1677.7,2084.5 1679.9,2084.0 1682.1,2083.9 1684.3,2084.0 1686.5,2084.9 1688.8,2083.5 1691.0,2083.7 1693.2,2084.8 1695.4,2083.8 1697.6,2083.4 1699.8,2083.4 1702.0,2084.4 1704.2,2084.0 1706.5,2085.3 1708.7,2085.1 1710.9,2085.3 1713.1,2083.8 1715.3,2083.5 1717.5,2083.5 1719.7,2084.3 1722.0,2084.7 1724.2,2084.2 1726.4,2083.8 1728.6,2084.1 1730.8,2084.5 1733.0,2084.6 1735.2,2084.8 1737.5,2085.0 1739.7,2084.6 1741.9,2083.5 1744.1,2085.0 1746.3,2083.9 1748.5,2084.4 1750.7,2084.0 1753.0,2084.8 1755.2,2083.7 1757.4,2083.8 1759.6,2083.8 1761.8,2083.6 1764.0,2085.1 1766.2,2084.5 1768.5,2084.0 1770.7,2084.1 1772.9,2085.3 1775.1,2084.3 1777.3,2083.8 1779.5,2084.9 1781.7,2084.6 1784.0,2085.3 1786.2,2083.5 1788.4,2084.2 1790.6,2084.9 1792.8,2085.0 1795.0,2085.1 1797.2,2083.4 1799.5,2083.9 1801.7,2083.5 1803.9,2083.7 1806.1,2085.2 1808.3,2084.5 1810.5,2085.2 1812.7,2084.0 1814.9,2085.0 1817.2,2084.2 1819.4,2083.8 1821.6,2084.9 1823.8,2085.2 1826.0,2083.5 1828.2,2084.5 1830.4,2084.5 1832.7,2083.7 1834.9,2084.0 1837.1,2083.6 1839.3,2083.7 1841.5,2083.8 1843.7,2084.5 1845.9,2084.6 1848.2,2083.7 1850.4,2083.3 1852.6,2084.0 1854.8,2084.7 1857.0,2083.7 1859.2,2083.9 1861.4,2083.7 1863.7,2084.9 1865.9,2084.4 1868.1,2083.4 1870.3,2083.5 1872.5,2084.1 1874.7,2084.4 1876.9,2084.6 1879.2,2083.5 1881.4,2083.6 1883.6,2084.7 1885.8,2084.1 1888.0,2083.9 1890.2,2083.9 1892.4,2085.2 1894.7,2083.9 1896.9,2084.4 1899.1,2084.0 1901.3,2084.1 1903.5,2085.0 1905.7,2085.3 1907.9,2084.0 1910.2,2083.7 1912.4,2084.8 1914.6,2083.7 1916.8,2083.3 1919.0,2085.1 1921.2,2084.1 1923.4,2084.9 1925.6,2084.1 1927.9,2085.1 1930.1,2084.2 1932.3,2083.6 1934.5,2083.3 1936.7,2084.4 1938.9,2084.6 1941.1,2085.1 1943.4,2083.5 1945.6,2084.5 1947.8,2084.0 1950.0,2084.3 1952.2,2083.6 1954.4,2082.1 1956.6,2079.8 1958.9,2082.5 1961.1,2083.5 1963.3,2084.3 1965.5,2084.9 1967.7,2085.2 1969.9,2083.7 1972.1,2083.6 1974.4,2085.2 1976.6,2085.3 1978.8,2084.3 1981.0,2083.4 1983.2,2085.2 1985.4,2084.1 1987.6,2085.1 1989.9,2084.5 1992.1,2084.9 1994.3,2082.0 1996.5,2080.5 1998.7,2080.9 2000.9,2084.0 2003.1,2085.0 2005.4,2085.0 2007.6,2083.7 2009.8,2083.7 2012.0,2084.1 2014.2,2084.3 2016.4,2084.1 2018.6,2083.5 2020.9,2083.8 2023.1,2084.7 2025.3,2085.1 2027.5,2083.4 2029.7,2083.7 2031.9,2081.9 2034.1,2080.5 2036.3,2084.3 2038.6,2083.5 2040.8,2084.5 2043.0,2084.4 2045.2,2084.6 2047.4,2083.9 2049.6,2084.1 2051.8,2084.5 2054.1,2084.2 2056.3,2084.6 2058.5,2082.9 2060.7,2080.9 2062.9,2081.5 2065.1,2084.5 2067.3,2084.3 2069.6,2083.8 2071.8,2084.8 2074.0,2084.9 2076.2,2084.2 2078.4,2083.7 2080.6,2084.2 2082.8,2083.5 2085.1,2083.6 2087.3,2084.2 2089.5,2083.5 2091.7,2084.2 2093.9,2084.3 2096.1,2083.4 2098.3,2083.4 2100.6,2080.4 2102.8,2082.8 2105.0,2084.8 2107.2,2084.3 2109.4,2083.4 2111.6,2084.3 2113.8,2084.1 2116.1,2085.2 2118.3,2083.6 2120.5,2085.0 2122.7,2085.3 2124.9,2084.8 2127.1,2084.9 2129.3,2083.7 2131.6,2085.3 2134.3,2077.2 2136.5,2069.0 2137.0,2009.0 2139.7,2009.0 2140.3,2058.1 2141.9,2044.5 2143.8,2067.6 2147.9,2074.4 2151.4,2051.3 2154.7,2086.7 2157.4,2074.4 2161.5,2066.3 2162.9,2084.0 2165.6,2066.3 2168.3,2077.2 2172.4,2079.9 2179.2,2075.8 2184.7,2081.3 2189.3,2070.4 2194.2,2079.9 2202.4,2081.3 2213.3,2077.2 2221.5,2079.9 2232.4,2077.2 2237.8,2081.3 2240.0,2082.0 2244.6,2075.8 2247.7,2078.9 2250.8,2075.8 2253.9,2080.4 2257.0,2075.8 2260.1,2082.0 2261.6,2072.0 2264.7,2077.4 2268.6,2070.4 2270.6,2073.5 2271.7,2058.8 2273.2,2071.2 2277.1,2071.2 2279.4,2079.7 2281.4,2066.5 2284.0,2077.4 2286.3,2070.4 2289.4,2078.1 2292.5,2071.2 2295.6,2075.8 2299.5,2068.9 2303.3,2072.0 2305.6,2075.8 2307.2,2070.4 2309.5,2077.4 2311.3,2067.3 2314.1,2072.7 2316.4,2069.6 2318.8,2075.0 2321.1,2071.2 2322.6,2061.1 2324.9,2071.2 2328.0,2064.2 2331.1,2068.1 2334.2,2061.9 2337.3,2066.5 2339.6,2072.0 2341.9,2061.1 2345.8,2058.8 2348.9,2061.9 2350.9,2049.6 2354.3,2058.8 2357.4,2054.2 2359.7,2056.5 2362.0,2051.1 2365.1,2048.0 2366.9,2053.4 2368.9,2031.0 2371.3,2037.2 2373.6,2017.9 2376.3,2048.0 2377.4,2021.0 2379.7,2021.8 2381.8,2038.8 2383.6,2021.8 2385.9,2017.1 2387.5,2000.9 2389.8,2000.9 2391.6,2007.1 2393.6,1991.7 2396.0,1992.4 2396.7,1970.0 2399.0,1987.0 2401.4,1981.6 2403.7,1980.8 2406.0,1972.4 2408.2,1943.3 2410.4,1947.5 2412.6,1939.2 2414.8,1944.8 2417.1,1931.9 2419.3,1930.7 2421.5,1919.3 2423.7,1911.8 2425.9,1899.9 2428.1,1868.2 2430.3,1884.5 2432.6,1869.0 2434.8,1871.0 2437.0,1833.8 2439.2,1845.0 2441.4,1822.8 2443.6,1787.7 2445.8,1797.4 2448.0,1771.9 2450.3,1757.9 2452.5,1724.2 2454.7,1726.8 2456.9,1701.0 2459.1,1707.3 2461.3,1653.0 2463.5,1668.5 2465.8,1624.7 2468.0,1635.3 2470.2,1604.4 2472.4,1607.6 2474.6,1550.2 2476.8,1545.0 2479.0,1505.9 2481.3,1446.4 2483.5,1423.6 2485.7,1416.6 2487.9,1430.1 2490.1,1385.5 2492.3,1357.2 2494.5,1362.5 2496.8,1279.6 2499.0,1288.2 2501.2,1264.0 2503.4,1255.3 2505.6,1176.1 2507.8,1179.6 2510.0,1189.9 2512.3,1172.8 2514.5,1169.6 2516.7,1068.8 2518.9,1069.0 2521.1,1025.5 2523.3,1019.4 2525.5,984.6 2527.8,931.7 2530.0,967.6 2532.2,882.5 2534.4,912.8 2536.6,914.3 2538.8,844.7 2541.0,857.4 2543.3,794.8 2545.5,771.8 2547.7,762.0 2549.9,778.8 2552.1,705.3 2554.3,767.3 2556.5,645.3 2558.7,690.7 2561.0,661.3 2563.2,694.0 2565.4,610.6 2567.6,640.2 2569.8,561.5 2572.0,565.2 2574.2,591.4 2576.5,595.0 2578.7,519.1 2580.9,577.0 2583.1,477.5 2585.3,579.7 2587.5,553.1 2589.7,436.9 2592.0,540.9 2594.2,450.6 2596.4,506.8 2598.6,457.4 2600.8,494.2 2603.0,413.9 2605.2,506.4 2607.5,471.0 2609.7,477.4 2611.9,390.8 2614.1,422.2 2616.3,398.4 2618.5,438.6 2620.7,388.5 2623.0,407.3 2625.2,320.4 2627.4,432.7 2629.6,309.9 2631.8,406.2 2634.0,403.2 2636.2,331.3 2638.5,416.2 2640.7,337.2 2642.9,322.9 2645.1,375.8 2647.3,382.7 2649.5,286.8 2651.7,399.5 2654.0,378.4 2656.2,340.7 2658.4,379.8 2660.6,337.2 2662.8,305.5 2665.0,285.5 2667.2,393.2 2669.4,286.1 2671.7,398.5 2673.9,314.0 2676.1,383.1 2678.3,266.1 2680.5,354.5 2682.7,343.5 2684.9,288.9 2687.2,335.3 2689.4,304.2 2691.6,368.4 2693.8,369.4 2696.0,264.5 2698.2,377.5 2700.4,384.9 2702.7,270.0 2704.9,369.0 2707.1,254.6 2709.3,377.3 2711.5,371.9 2713.7,374.0 2715.9,286.0 2718.2,387.2 2720.4,280.0 2722.5,195.0 2724.8,239.1 2727.0,385.8 2729.2,293.2 2731.4,303.0 2733.0,185.0 2735.8,451.7 2739.0,231.0 2740.3,384.7 2743.3,487.0 2744.7,428.2 2746.0,227.0 2749.2,486.3 2751.4,261.4 2753.0,554.0 2755.8,283.4 2757.0,228.0 2759.2,591.0 2762.4,224.8 2764.7,392.1 2766.9,288.3 2768.3,560.0 2771.7,164.0 2773.5,547.5 2775.7,309.1 2778.7,200.0 2780.1,387.1 2782.4,333.9 2784.6,496.0 2787.0,566.0 2789.0,333.2 2791.2,422.7 2793.3,560.0 2796.7,113.0 2797.9,180.4 2800.1,507.7 2802.3,201.3 2804.5,320.5 2807.5,198.0 2808.8,524.6 2811.1,485.9 2813.4,285.3 2815.6,442.9 2817.0,40.0 2819.2,600.0 2822.2,319.5 2824.4,389.2 2826.7,604.0 2828.0,40.0 2832.0,541.0 2833.3,122.0 2835.5,448.2 2837.7,171.1 2839.0,508.0 2843.3,610.0 2844.6,90.0 2846.6,175.0 2848.8,437.2 2851.7,166.0 2853.2,149.1 2855.4,597.1 2857.6,159.2 2859.9,310.2 2862.0,233.0 2864.3,260.0 2865.4,722.5 2868.7,598.6 2870.4,520.0 2873.0,238.0 2875.4,586.6 2877.6,449.1 2880.0,701.7 2882.0,294.9 2884.2,456.5 2887.0,635.0 2888.6,519.5"/>
</g>
<rect x="314" y="74" width="2580" height="2036" fill="none" stroke="#000" stroke-width="4"/>
<g stroke="#000" stroke-width="4">
<line x1="273" y1="2084" x2="314" y2="2084"/><line x1="293" y1="2044" x2="314" y2="2044"/><line x1="293" y1="2004" x2="314" y2="2004"/><line x1="293" y1="1964" x2="314" y2="1964"/><line x1="293" y1="1924" x2="314" y2="1924"/><line x1="283" y1="1884" x2="314" y2="1884"/><line x1="293" y1="1844" x2="314" y2="1844"/><line x1="293" y1="1804" x2="314" y2="1804"/><line x1="293" y1="1763" x2="314" y2="1763"/><line x1="293" y1="1723" x2="314" y2="1723"/><line x1="273" y1="1683" x2="314" y2="1683"/><line x1="293" y1="1643" x2="314" y2="1643"/><line x1="293" y1="1603" x2="314" y2="1603"/><line x1="293" y1="1563" x2="314" y2="1563"/><line x1="293" y1="1523" x2="314" y2="1523"/><line x1="283" y1="1483" x2="314" y2="1483"/><line x1="293" y1="1443" x2="314" y2="1443"/><line x1="293" y1="1403" x2="314" y2="1403"/><line x1="293" y1="1363" x2="314" y2="1363"/><line x1="293" y1="1323" x2="314" y2="1323"/><line x1="273" y1="1283" x2="314" y2="1283"/><line x1="293" y1="1243" x2="314" y2="1243"/><line x1="293" y1="1202" x2="314" y2="1202"/><line x1="293" y1="1162" x2="314" y2="1162"/><line x1="293" y1="1122" x2="314" y2="1122"/><line x1="283" y1="1082" x2="314" y2="1082"/><line x1="293" y1="1042" x2="314" y2="1042"/><line x1="293" y1="1002" x2="314" y2="1002"/><line x1="293" y1="962" x2="314" y2="962"/><line x1="293" y1="922" x2="314" y2="922"/><line x1="273" y1="882" x2="314" y2="882"/><line x1="293" y1="842" x2="314" y2="842"/><line x1="293" y1="802" x2="314" y2="802"/><line x1="293" y1="762" x2="314" y2="762"/><line x1="293" y1="722" x2="314" y2="722"/><line x1="283" y1="681" x2="314" y2="681"/><line x1="293" y1="641" x2="314" y2="641"/><line x1="293" y1="601" x2="314" y2="601"/><line x1="293" y1="561" x2="314" y2="561"/><line x1="293" y1="521" x2="314" y2="521"/><line x1="273" y1="481" x2="314" y2="481"/><line x1="293" y1="441" x2="314" y2="441"/><line x1="293" y1="401" x2="314" y2="401"/><line x1="293" y1="361" x2="314" y2="361"/><line x1="293" y1="321" x2="314" y2="321"/><line x1="283" y1="281" x2="314" y2="281"/><line x1="293" y1="241" x2="314" y2="241"/><line x1="293" y1="201" x2="314" y2="201"/><line x1="293" y1="160" x2="314" y2="160"/><line x1="293" y1="120" x2="314" y2="120"/><line x1="273" y1="80" x2="314" y2="80"/><line x1="320" y1="2110" x2="320" y2="2141"/><line x1="364" y1="2110" x2="364" y2="2131"/><line x1="409" y1="2110" x2="409" y2="2131"/><line x1="453" y1="2110" x2="453" y2="2131"/><line x1="497" y1="2110" x2="497" y2="2131"/><line x1="541" y1="2110" x2="541" y2="2151"/><line x1="586" y1="2110" x2="586" y2="2131"/><line x1="630" y1="2110" x2="630" y2="2131"/><line x1="674" y1="2110" x2="674" y2="2131"/><line x1="719" y1="2110" x2="719" y2="2131"/><line x1="763" y1="2110" x2="763" y2="2141"/><line x1="807" y1="2110" x2="807" y2="2131"/><line x1="851" y1="2110" x2="851" y2="2131"/><line x1="896" y1="2110" x2="896" y2="2131"/><line x1="940" y1="2110" x2="940" y2="2131"/><line x1="984" y1="2110" x2="984" y2="2151"/><line x1="1028" y1="2110" x2="1028" y2="2131"/><line x1="1073" y1="2110" x2="1073" y2="2131"/><line x1="1117" y1="2110" x2="1117" y2="2131"/><line x1="1161" y1="2110" x2="1161" y2="2131"/><line x1="1206" y1="2110" x2="1206" y2="2141"/><line x1="1250" y1="2110" x2="1250" y2="2131"/><line x1="1294" y1="2110" x2="1294" y2="2131"/><line x1="1338" y1="2110" x2="1338" y2="2131"/><line x1="1383" y1="2110" x2="1383" y2="2131"/><line x1="1427" y1="2110" x2="1427" y2="2151"/><line x1="1471" y1="2110" x2="1471" y2="2131"/><line x1="1515" y1="2110" x2="1515" y2="2131"/><line x1="1560" y1="2110" x2="1560" y2="2131"/><line x1="1604" y1="2110" x2="1604" y2="2131"/><line x1="1648" y1="2110" x2="1648" y2="2141"/><line x1="1693" y1="2110" x2="1693" y2="2131"/><line x1="1737" y1="2110" x2="1737" y2="2131"/><line x1="1781" y1="2110" x2="1781" y2="2131"/><line x1="1825" y1="2110" x2="1825" y2="2131"/><line x1="1870" y1="2110" x2="1870" y2="2151"/><line x1="1914" y1="2110" x2="1914" y2="2131"/><line x1="1958" y1="2110" x2="1958" y2="2131"/><line x1="2002" y1="2110" x2="2002" y2="2131"/><line x1="2047" y1="2110" x2="2047" y2="2131"/><line x1="2091" y1="2110" x2="2091" y2="2141"/><line x1="2135" y1="2110" x2="2135" y2="2131"/><line x1="2180" y1="2110" x2="2180" y2="2131"/><line x1="2224" y1="2110" x2="2224" y2="2131"/><line x1="2268" y1="2110" x2="2268" y2="2131"/><line x1="2312" y1="2110" x2="2312" y2="2151"/><line x1="2357" y1="2110" x2="2357" y2="2131"/><line x1="2401" y1="2110" x2="2401" y2="2131"/><line x1="2445" y1="2110" x2="2445" y2="2131"/><line x1="2489" y1="2110" x2="2489" y2="2131"/><line x1="2534" y1="2110" x2="2534" y2="2141"/><line x1="2578" y1="2110" x2="2578" y2="2131"/><line x1="2622" y1="2110" x2="2622" y2="2131"/><line x1="2667" y1="2110" x2="2667" y2="2131"/><line x1="2711" y1="2110" x2="2711" y2="2131"/><line x1="2755" y1="2110" x2="2755" y2="2151"/><line x1="2799" y1="2110" x2="2799" y2="2131"/><line x1="2844" y1="2110" x2="2844" y2="2131"/><line x1="2888" y1="2110" x2="2888" y2="2131"/>
</g>
<g font-family="'Liberation Sans', sans-serif" font-size="56" fill="#000" stroke="#000" stroke-width="0.8">
<text x="253.5" y="2099.7" text-anchor="end">0.0</text><text x="253.5" y="1698.9" text-anchor="end">0.2</text><text x="253.5" y="1298.2" text-anchor="end">0.4</text><text x="253.5" y="897.4" text-anchor="end">0.6</text><text x="253.5" y="496.7" text-anchor="end">0.8</text><text x="253.5" y="95.9" text-anchor="end">1.0</text><text x="541.5" y="2216" text-anchor="middle">400</text><text x="984.2" y="2216" text-anchor="middle">500</text><text x="1426.9" y="2216" text-anchor="middle">600</text><text x="1869.7" y="2216" text-anchor="middle">700</text><text x="2312.4" y="2216" text-anchor="middle">800</text><text x="2755.1" y="2216" text-anchor="middle">900</text>
<text id="xl" x="1604.5" y="2287" text-anchor="middle">Longueur d'onde / nm</text>
<text id="yl" transform="translate(64.5 1091.5) rotate(-90)" text-anchor="middle">Transmission</text>
</g>
<!-- images -->
<rect x="832" y="700" width="729" height="92" fill="#fff"/>
<rect x="866" y="242.3" width="678" height="455.7" fill="none" stroke="#000" stroke-width="3.8"/>
<rect x="872" y="248" width="666" height="444" fill="#000"/>
<defs>
<linearGradient id="pgc" x1="0" y1="0" x2="0" y2="1">
<stop offset="0" stop-color="#b99a80"/><stop offset="0.2" stop-color="#dcb48e"/><stop offset="0.5" stop-color="#e9bf97"/><stop offset="0.7" stop-color="#f6d0a4"/><stop offset="0.84" stop-color="#e2ba94"/><stop offset="1" stop-color="#b8987c"/>
</linearGradient>
<radialGradient id="ldc" cx="0.5" cy="0.5" r="0.5">
<stop offset="0" stop-color="#000" stop-opacity="0"/><stop offset="0.7" stop-color="#000" stop-opacity="0.04"/><stop offset="1" stop-color="#000" stop-opacity="0.2"/>
</radialGradient>
<clipPath id="frc"><rect x="1059" y="457.5" width="302" height="89"/></clipPath>
<filter id="blc" x="-20%" y="-40%" width="140%" height="180%"><feGaussianBlur stdDeviation="3.4"/></filter>
</defs>
<g filter="url(#blc)">
<path fill-rule="evenodd" fill="#a09288" d="M1081.0,457.5A129.0,58.1 0 1 0 1339.0,457.5A129.0,58.1 0 1 0 1081.0,457.5ZM1095.4,457.5A114.6,51.6 0 1 0 1324.6,457.5A114.6,51.6 0 1 0 1095.4,457.5Z"/><path fill-rule="evenodd" fill="#6a6c7a" d="M1095.4,457.5A114.6,51.6 0 1 0 1324.6,457.5A114.6,51.6 0 1 0 1095.4,457.5ZM1100.6,457.5A109.4,49.3 0 1 0 1319.4,457.5A109.4,49.3 0 1 0 1100.6,457.5Z"/><path fill-rule="evenodd" fill="#e0c2a2" d="M1100.6,457.5A109.4,49.3 0 1 0 1319.4,457.5A109.4,49.3 0 1 0 1100.6,457.5ZM1124.2,457.5A85.8,38.6 0 1 0 1295.8,457.5A85.8,38.6 0 1 0 1124.2,457.5Z"/>
<ellipse cx="1210" cy="457.5" rx="54.0" ry="51.3" fill="url(#pgc)"/>
<ellipse cx="1210" cy="457.5" rx="54.0" ry="51.3" fill="url(#ldc)"/>
<g clip-path="url(#frc)"><path fill-rule="evenodd" fill="rgba(70,62,60,0.55)" d="M1124.2,457.5A85.8,38.6 0 1 0 1295.8,457.5A85.8,38.6 0 1 0 1124.2,457.5ZM1138.0,457.5A72.1,32.5 0 1 0 1282.0,457.5A72.1,32.5 0 1 0 1138.0,457.5Z"/><path fill-rule="evenodd" fill="#a09288" d="M1081.0,457.5A129.0,58.1 0 1 0 1339.0,457.5A129.0,58.1 0 1 0 1081.0,457.5ZM1095.4,457.5A114.6,51.6 0 1 0 1324.6,457.5A114.6,51.6 0 1 0 1095.4,457.5Z"/><path fill-rule="evenodd" fill="#6a6c7a" d="M1095.4,457.5A114.6,51.6 0 1 0 1324.6,457.5A114.6,51.6 0 1 0 1095.4,457.5ZM1100.6,457.5A109.4,49.3 0 1 0 1319.4,457.5A109.4,49.3 0 1 0 1100.6,457.5Z"/><path fill-rule="evenodd" fill="#e0c2a2" d="M1100.6,457.5A109.4,49.3 0 1 0 1319.4,457.5A109.4,49.3 0 1 0 1100.6,457.5ZM1124.2,457.5A85.8,38.6 0 1 0 1295.8,457.5A85.8,38.6 0 1 0 1124.2,457.5Z"/></g>
</g>
<rect x="1792" y="708" width="734" height="91" fill="#fff"/>
<rect x="1826" y="246.2" width="678" height="455.8" fill="none" stroke="#000" stroke-width="3.8"/>
<rect x="1832" y="252" width="666" height="444" fill="#000"/>
<defs>
<linearGradient id="pgg" x1="0" y1="0" x2="0" y2="1">
<stop offset="0" stop-color="#6e6e6e"/><stop offset="0.2" stop-color="#8a8a8a"/><stop offset="0.5" stop-color="#929292"/><stop offset="0.7" stop-color="#a9a9a9"/><stop offset="0.84" stop-color="#8e8e8e"/><stop offset="1" stop-color="#6a6a6a"/>
</linearGradient>
<radialGradient id="ldg" cx="0.5" cy="0.5" r="0.5">
<stop offset="0" stop-color="#000" stop-opacity="0"/><stop offset="0.7" stop-color="#000" stop-opacity="0.04"/><stop offset="1" stop-color="#000" stop-opacity="0.2"/>
</radialGradient>
<clipPath id="frg"><rect x="2009.0" y="461" width="305.0" height="89"/></clipPath>
<filter id="blg" x="-20%" y="-40%" width="140%" height="180%"><feGaussianBlur stdDeviation="3.4"/></filter>
</defs>
<g filter="url(#blg)">
<path fill-rule="evenodd" fill="#929292" d="M2031.0,461A130.5,58.1 0 1 0 2292.0,461A130.5,58.1 0 1 0 2031.0,461ZM2045.6,461A115.9,51.6 0 1 0 2277.4,461A115.9,51.6 0 1 0 2045.6,461Z"/><path fill-rule="evenodd" fill="#6c6c6c" d="M2045.6,461A115.9,51.6 0 1 0 2277.4,461A115.9,51.6 0 1 0 2045.6,461ZM2050.9,461A110.6,49.3 0 1 0 2272.1,461A110.6,49.3 0 1 0 2050.9,461Z"/><path fill-rule="evenodd" fill="#dedede" d="M2050.9,461A110.6,49.3 0 1 0 2272.1,461A110.6,49.3 0 1 0 2050.9,461ZM2074.7,461A86.8,38.6 0 1 0 2248.3,461A86.8,38.6 0 1 0 2074.7,461Z"/>
<ellipse cx="2161.5" cy="461" rx="54.6" ry="51.9" fill="url(#pgg)"/>
<ellipse cx="2161.5" cy="461" rx="54.6" ry="51.9" fill="url(#ldg)"/>
<g clip-path="url(#frg)"><path fill-rule="evenodd" fill="rgba(70,70,70,0.55)" d="M2074.7,461A86.8,38.6 0 1 0 2248.3,461A86.8,38.6 0 1 0 2074.7,461ZM2088.6,461A72.9,32.5 0 1 0 2234.4,461A72.9,32.5 0 1 0 2088.6,461Z"/><path fill-rule="evenodd" fill="#929292" d="M2031.0,461A130.5,58.1 0 1 0 2292.0,461A130.5,58.1 0 1 0 2031.0,461ZM2045.6,461A115.9,51.6 0 1 0 2277.4,461A115.9,51.6 0 1 0 2045.6,461Z"/><path fill-rule="evenodd" fill="#6c6c6c" d="M2045.6,461A115.9,51.6 0 1 0 2277.4,461A115.9,51.6 0 1 0 2045.6,461ZM2050.9,461A110.6,49.3 0 1 0 2272.1,461A110.6,49.3 0 1 0 2050.9,461Z"/><path fill-rule="evenodd" fill="#dedede" d="M2050.9,461A110.6,49.3 0 1 0 2272.1,461A110.6,49.3 0 1 0 2050.9,461ZM2074.7,461A86.8,38.6 0 1 0 2248.3,461A86.8,38.6 0 1 0 2074.7,461Z"/></g>
</g>
<g font-family="'Liberation Sans', sans-serif" font-size="44" fill="#000" stroke="#000" stroke-width="0.9" text-anchor="middle">
<text id="c1a" transform="translate(1196.5 737.2) scale(0.9066 1)">Télescope C8, caméra ZWO ASI 228MC,</text>
<text id="c1b" transform="translate(1196.2 780.5) scale(0.9066 1)">Filtre IR/UV cut</text>
<text id="c2a" transform="translate(2161.2 741.6) scale(0.9066 1)">Télescope C8, caméra ZWO ASI 228MC,</text>
<text id="c2b" transform="translate(2160.4 784.9) scale(0.9066 1)">Filtre IR pass 850 nm</text>
</g>
<!-- legend -->
<rect x="697" y="1700" width="1028" height="154" fill="#fff"/>
<line x1="705" y1="1738" x2="811" y2="1738" stroke="#ff0000" stroke-width="4"/>
<line x1="705" y1="1814" x2="811" y2="1814" stroke="#990080" stroke-width="4"/>
<g font-family="'Liberation Sans', sans-serif" font-size="75" stroke-width="1">
<text id="l1" transform="translate(840.6 1757.9) scale(0.9422 1)" fill="#ff0000" stroke="#ff0000">Filtre UV/IR cut Baader</text>
<text id="l2" transform="translate(840.6 1833.8) scale(0.9477 1)" fill="#990080" stroke="#990080">Filtre IR pass 850 nm ZWO</text>
</g>
</svg>
</body></html>
